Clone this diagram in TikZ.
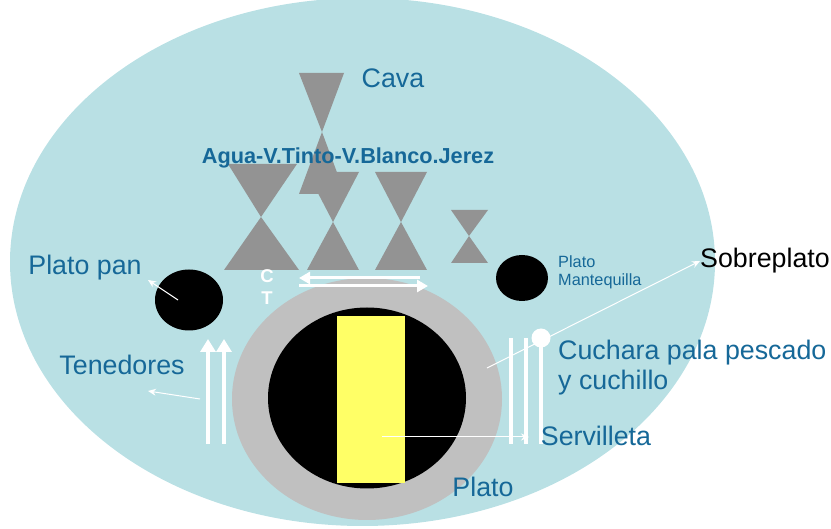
\documentclass[tikz,border=0pt]{standalone}
\usepackage{fontspec}
\setmainfont{Liberation Sans}
\usetikzlibrary{arrows.meta,shapes.geometric}

\definecolor{mesa}{RGB}{185,224,228}
\definecolor{rotulo}{RGB}{22,104,152}
\definecolor{copa}{RGB}{147,147,147}
\definecolor{bajoplato}{RGB}{192,192,192}
\definecolor{servilleta}{RGB}{255,255,102}

\tikzset{
  label/.style={text=rotulo, inner sep=0pt, font=\fontsize{26.8}{30}\selectfont},
  whitetip/.style={-{Stealth[length=8pt, width=7pt]}, draw=white, line width=1pt},
  cubierto/.style={draw=white, line width=4pt, -{Triangle[length=13pt, width=15pt]}}
}

\begin{document}
\begin{tikzpicture}[x=1pt, y=-1pt]
  \useasboundingbox (0,0) rectangle (831,529);

  % mesa
  \fill[mesa] (362.5,262) ellipse [x radius=352.5, y radius=264];

  % copas
  \fill[copa] (299,73) -- (344,73) -- (322,132) -- (345,194) -- (299,194) -- (322,132) -- cycle;
  \fill[copa] (228,164) -- (297,164) -- (261,217) -- (299,270) -- (224,270) -- (261,217) -- cycle;
  \fill[copa] (307,172) -- (359,172) -- (333,222) -- (359,270) -- (307,270) -- (333,222) -- cycle;
  \fill[copa] (375,172) -- (427,172) -- (401,222) -- (427,270) -- (375,270) -- (401,222) -- cycle;
  \fill[copa] (451,210) -- (488,210) -- (469,236) -- (488,263) -- (451,263) -- (469,236) -- cycle;

  % platos
  \node[ellipse, fill=bajoplato, inner sep=0pt, minimum width=270pt, minimum height=242pt] (sobre) at (367,399) {};
  \node[ellipse, fill=black, inner sep=0pt, minimum width=198pt, minimum height=181pt] (plato) at (367,398) {};
  \node[rectangle, fill=servilleta, inner sep=0pt, minimum width=68pt, minimum height=167pt] (serv) at (371,399.5) {};
  \node[ellipse, fill=black, inner sep=0pt, minimum width=68pt, minimum height=61pt] (pan) at (189,300) {};
  \node[ellipse, fill=black, inner sep=0pt, minimum width=52pt, minimum height=46pt] (mantequilla) at (522,278) {};

  % cubiertos
  \draw[cubierto] (208,444) -- (208,339);
  \draw[cubierto] (224,444) -- (224,339);
  \draw[white, line width=4pt] (511,338) -- (511,444);
  \draw[white, line width=4pt] (526,338) -- (526,444);
  \draw[white, line width=4pt] (541,338) -- (541,444);
  \fill[white] (541,338) circle [radius=9.5];
  \draw[white, line width=3pt, -{Triangle[length=11pt, width=12pt]}] (420,278) -- (299,278);
  \draw[white, line width=3pt, -{Triangle[length=11pt, width=12pt]}] (299,286) -- (428,286);

  % textos
  \node[label] (cava) at (393,78) {Cava};
  \node[label, font=\fontsize{21.7}{24}\bfseries] (copas) at (348,158) {Agua-V.Tinto-V.Blanco.Jerez};
  \node[text=white, inner sep=0pt, align=center, font=\fontsize{18.5}{22}\bfseries] (ct) at (267,287) {C\\T};
  \node[label] (platopan) at (85,268) {Plato pan};
  \node[label] (tenedores) at (122,365) {Tenedores};
  \node[label, anchor=west, align=left, font=\fontsize{16.3}{18}\selectfont] (platomant) at (558,272) {Plato\\Mantequilla};
  \node[label, text=black] (sobreplato) at (765,261) {Sobreplato};
  \node[label, anchor=west, align=left] (cuchara) at (558,368) {Cuchara pala pescado\\y cuchillo};
  \node[label] (servilleta) at (596,436) {Servilleta};
  \node[label] (platotxt) at (483,487) {Plato};

  % flechas
  \coordinate (ten) at (200,399);
  \coordinate (tenfin) at (148,391);
  \draw[whitetip] (pan.center) ++(-11,0) -- (148,280);
  \draw[whitetip] (ten) -- (tenfin);
  \draw[whitetip] (487,368) -- (sobreplato.west);
  \draw[whitetip] (382,437) -- (529,437);
\end{tikzpicture}
\end{document}
